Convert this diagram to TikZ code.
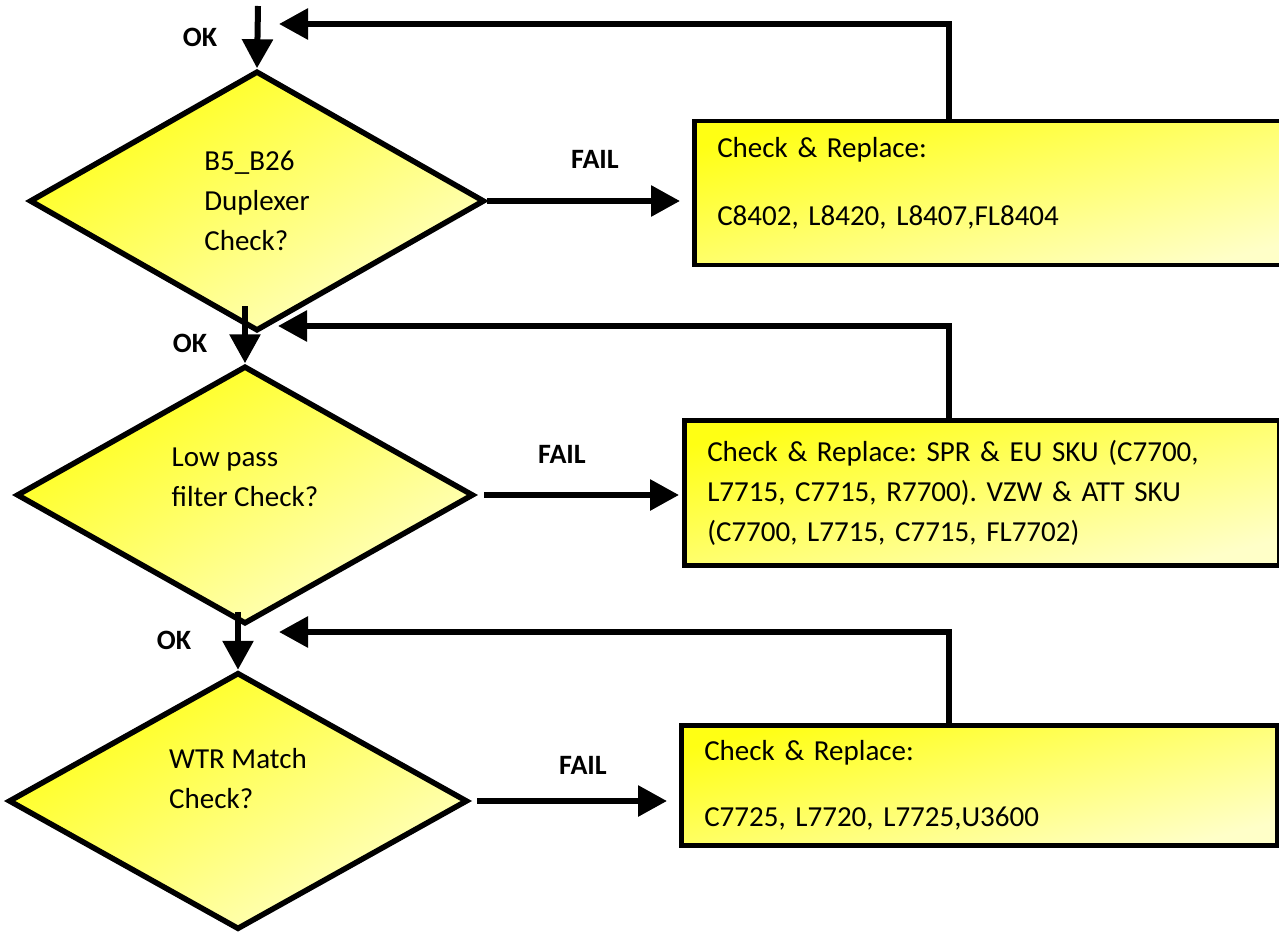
\documentclass[tikz,border=0pt]{standalone}
\usepackage{fontspec}
\setmainfont{Carlito}
\usetikzlibrary{arrows.meta,positioning,shapes.geometric,calc}
\definecolor{chkhi}{HTML}{FFFF14}
\definecolor{chklo}{HTML}{FFFFC8}

\tikzset{
  txt/.style={font=\fontsize{29}{40}\selectfont\frenchspacing},
  lbl/.style={font=\bfseries\fontsize{28}{30}\selectfont},
  decision/.style={diamond, draw, line width=5.5pt, inner sep=0pt, align=left, txt,
    top color=chkhi, bottom color=chklo, shading angle=30},
  chkbox/.style={rectangle, draw, line width=4.5pt, anchor=north west, inner xsep=23pt,
    inner ysep=0pt, align=left, txt, top color=chkhi, bottom color=chklo, shading angle=14},
  flow/.style={line width=6pt, -{Triangle[length=29pt,width=30pt]}},
}

\begin{document}
\begin{tikzpicture}[x=1pt,y=-1pt]
\path[use as bounding box, clip] (0,0) rectangle (1279,933);

% Decisions
\node[decision, minimum width=455pt, minimum height=260pt] (d1) at (257,201) {B5\_B26\\Duplexer\\Check?};
\node[decision, minimum width=457pt, minimum height=258pt, text depth=35pt] (d2) at (245,495) {Low pass\\filter Check?};
\node[decision, minimum width=459pt, minimum height=257pt, text depth=45pt] (d3) at (238,801) {WTR Match\\Check?};

% Repair boxes
\node[chkbox, minimum width=610pt, text width=564pt, minimum height=144pt, text depth=91pt] (chk1) at (692,119)
  {Check \& Replace:\\[28pt]C8402, L8420, L8407,FL8404};
\node[chkbox, minimum width=595pt, text width=549pt, minimum height=145pt] (chk2) at (682,418)
  {Check \& Replace: SPR \& EU SKU (C7700,\\L7715, C7715, R7700). VZW \& ATT SKU\\(C7700, L7715, C7715, FL7702)};
\node[chkbox, minimum width=596pt, text width=550pt, minimum height=120pt] (chk3) at (679,723)
  {Check \& Replace:\\[26pt]C7725, L7720, L7725,U3600};

% Labels
\node[lbl] (ok1) at (200,37) {OK};
\node[lbl] (ok2lbl) at (190,343) {OK};
\node[lbl] (ok3lbl) at (174,640) {OK};
\node[lbl] (fail1) at (595,159) {FAIL};
\node[lbl] (fail2) at (562,454) {FAIL};
\node[lbl] (fail3) at (583,765) {FAIL};

% Arrow ends
\coordinate (start) at (258,6);
\coordinate (ok2) at (245,306);
\coordinate (ok3) at (238,612);
\coordinate (ret) at (949,0);
\coordinate (back1) at (279,24);
\coordinate (back2) at (278,326);
\coordinate (back3) at (279,632);

% OK path
\draw[flow] (start) -- (d1.north);
\draw[flow] (ok2) -- (d2.north);
\draw[flow] (ok3) -- (d3.north);

% FAIL path
\draw[flow, shorten >=12pt] (d1.east) -- (d1.east -| chk1.west);
\draw[flow, shorten <=8pt, shorten >=3pt] (d2.east) -- (d2.east -| chk2.west);
\draw[flow, shorten <=7pt, shorten >=12pt] (d3.east) -- (d3.east -| chk3.west);

% Back to the flow
\draw[flow] (ret |- chk1.north) |- (back1);
\draw[flow] (ret |- chk2.north) |- (back2);
\draw[flow] (ret |- chk3.north) |- (back3);
\end{tikzpicture}
\end{document}
